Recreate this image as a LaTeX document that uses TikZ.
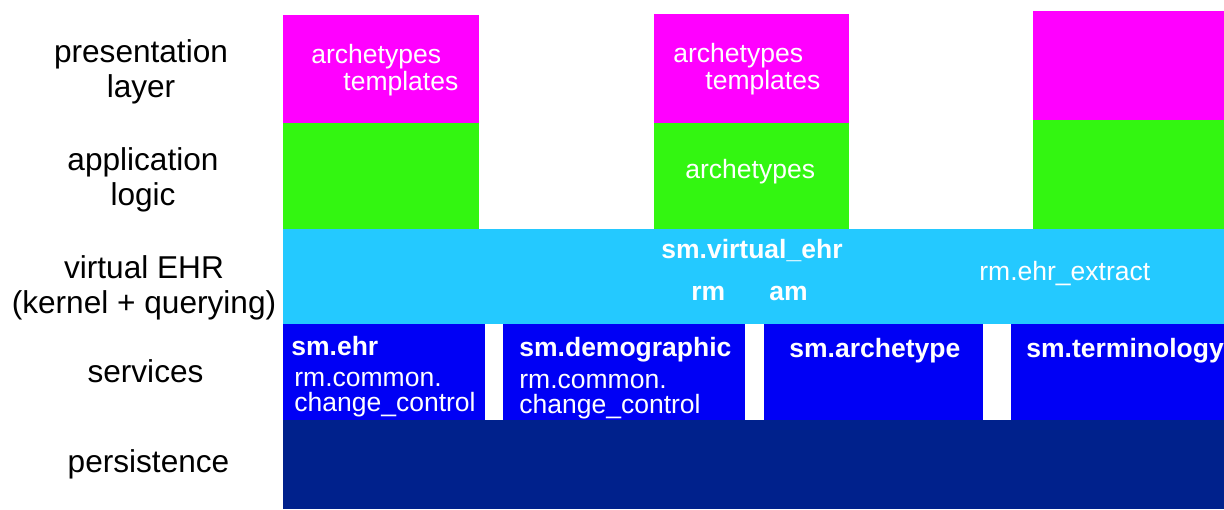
\documentclass[tikz,border=0pt]{standalone}
\usepackage{fontspec}
\setmainfont{Liberation Sans}
\usetikzlibrary{positioning}

\definecolor{presmag}{RGB}{255,0,255}
\definecolor{appgreen}{RGB}{51,246,17}
\definecolor{vehrcyan}{RGB}{36,201,255}
\definecolor{svcblue}{RGB}{0,0,245}
\definecolor{persnavy}{RGB}{0,33,140}

\begin{document}
\begin{tikzpicture}[x=0.5pt,y=-0.5pt]
        \tikzstyle{layerlabel} = [anchor=base, align=center, inner sep=0pt, text=black, font=\fontsize{15.8}{17.5}\selectfont];
        \tikzstyle{intext} = [anchor=base west, align=left, inner sep=0pt, text=white, font=\fontsize{13.25}{13.5}\selectfont];
        \tikzstyle{inbold} = [intext, font=\fontsize{13.25}{13.5}\selectfont\bfseries];

        \useasboundingbox (0,0) rectangle (1224,509);

        % layer blocks
        \fill[presmag] (283,15) rectangle (479,123);
        \fill[presmag] (654,14) rectangle (849,123);
        \fill[presmag] (1033,11) rectangle (1224,120);
        \fill[appgreen] (283,123) rectangle (479,229);
        \fill[appgreen] (654,123) rectangle (849,229);
        \fill[appgreen] (1033,120) rectangle (1224,229);
        \fill[vehrcyan] (283,229) rectangle (1224,324);
        \fill[svcblue] (283,324) rectangle (485,420);
        \fill[svcblue] (503,324) rectangle (745,420);
        \fill[svcblue] (764,324) rectangle (983,420);
        \fill[svcblue] (1011,324) rectangle (1224,420);
        \fill[persnavy] (283,420) rectangle (1224,509);

        % layer names (base = last line)
        \node(labpres) [layerlabel] at (141,97) {presentation\\layer};
        \node(labapp) [layerlabel] at (143,205) {application\\logic};
        \node(labvehr) [layerlabel] at (144,313) {virtual EHR\\(kernel + querying)};
        \node(labsvc) [layerlabel] at (145.5,382) {services};
        \node(labpers) [layerlabel] at (148.5,472) {persistence};

        % block texts
        \node(tplleft) [intext] at (311,90) {archetypes\\\hspace*{16pt}templates};
        \node(tplmid) [intext] at (673,89) {archetypes\\\hspace*{16pt}templates};
        \node(archmid) [intext] at (685,178) {archetypes};
        \node(vehrname) [inbold] at (661,258) {sm.virtual\_ehr};
        \node(vehrrm) [inbold] at (691,300) {rm};
        \node(vehram) [inbold] at (769,300) {am};
        \node(vehrext) [intext] at (979,280) {rm.ehr\_extract};
        \node(svcehr) [inbold] at (291,355) {sm.ehr};
        \node(ccehr) [intext, font=\fontsize{13.25}{12.2}\selectfont] at (294,411) {rm.common.\\change\_control};
        \node(svcdemo) [inbold] at (519,356) {sm.demographic};
        \node(ccdemo) [intext, font=\fontsize{13.25}{12.2}\selectfont] at (519,413) {rm.common.\\change\_control};
        \node(svcarch) [inbold] at (789,357) {sm.archetype};
        \node(svcterm) [inbold] at (1026,357) {sm.terminology};

    \end{tikzpicture}
\end{document}
